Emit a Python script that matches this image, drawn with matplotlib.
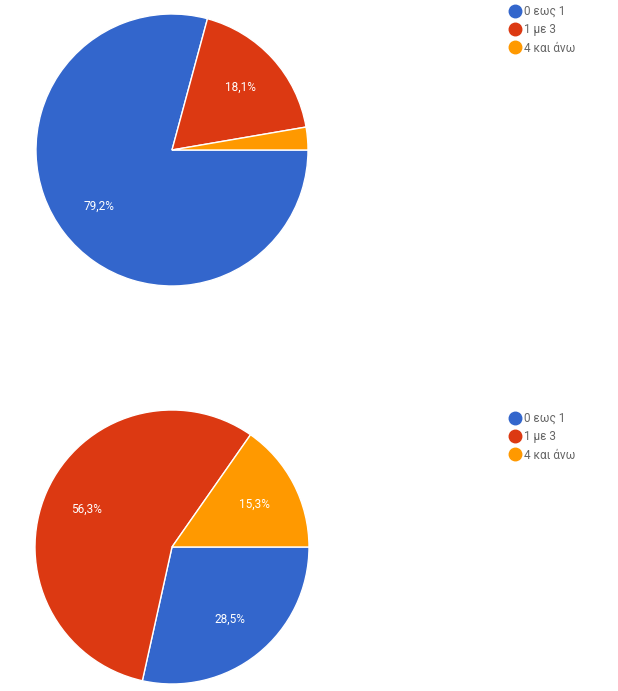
import matplotlib
matplotlib.use("Agg")
import matplotlib.pyplot as plt
from matplotlib.lines import Line2D

categories = ["0 εως 1", "1 με 3", "4 και άνω"]
top_values = [79.2, 18.1, 2.7]
bottom_values = [28.5, 56.3, 15.3]
colors = ["#3366CC", "#DC3912", "#FF9900"]

plt.rcParams['font.family'] = ['Roboto', 'DejaVu Sans']

W, H = 618, 691
fig = plt.figure(figsize=(W / 100, H / 100), dpi=100)


def fmt(v):
    return "" if v < 5 else f"{v:.1f}%".replace(".", ",")


def draw(cx, cy, r, values, leg_x, leg_y0):
    ax = fig.add_axes([(cx - r) / W, (H - cy - r) / H, 2 * r / W, 2 * r / H])
    wedges, texts = ax.pie(
        values, colors=colors, startangle=0, counterclock=False,
        labels=[fmt(v) for v in values], labeldistance=0.68,
        wedgeprops=dict(edgecolor="white", linewidth=1.0),
        textprops=dict(color="white", fontsize=8.5))
    for t in texts:
        t.set_horizontalalignment("center")
        t.set_verticalalignment("center")
    ax.set_xlim(-1, 1)
    ax.set_ylim(-1, 1)
    ax.set_aspect("equal")
    handles = [Line2D([], [], marker="o", linestyle="none", markersize=9,
                      markerfacecolor=c, markeredgecolor=c) for c in colors]
    leg = fig.legend(handles, categories, loc="upper left",
                     bbox_to_anchor=(leg_x / W, 1 - leg_y0 / H),
                     frameon=False, fontsize=8.5, handletextpad=0.3,
                     labelspacing=0.45, handlelength=1.0, borderaxespad=0,
                     borderpad=0)
    for t in leg.get_texts():
        t.set_color("#666666")


draw(172, 150, 136, top_values, 509, 5)
draw(172, 547, 137, bottom_values, 509, 412)

fig.savefig("out.png", dpi=100)
